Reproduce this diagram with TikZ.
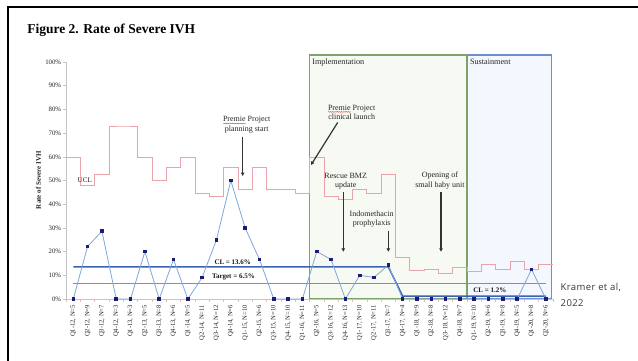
\documentclass[tikz,border=0pt]{standalone}
\usepackage{fontspec}
\setmainfont{Liberation Serif}
\newfontfamily\refsans[LetterSpace=4]{Open Sans}
\usetikzlibrary{arrows.meta,decorations.pathmorphing}

\definecolor{uclpink}{HTML}{E9A3AB}
\definecolor{datablue}{HTML}{7FA8DA}
\definecolor{marknavy}{HTML}{1C1C78}
\definecolor{clblue}{HTML}{3C62B4}
\definecolor{tgtgreen}{HTML}{46BE4E}
\definecolor{impgreen}{HTML}{7DA26A}
\definecolor{impfill}{HTML}{F6FAF3}
\definecolor{susblue}{HTML}{6A90D2}
\definecolor{susfill}{HTML}{F4F7FD}
\definecolor{axisgrey}{HTML}{C4C4C4}
\definecolor{spellred}{HTML}{D04848}

% red wavy underline, as a spell checker marks a word
\newlength\spellwd
\newcommand\spellwave[1]{\settowidth\spellwd{#1}%
  \rlap{\smash{\raisebox{-1.9pt}{\tikz[baseline=0pt]\draw[spellred,line width=0.35pt,decorate,
    decoration={snake,amplitude=0.45pt,segment length=1.8pt}] (0pt,0pt) -- (\spellwd,0pt);}}}#1}

\begin{document}
\begin{tikzpicture}[x=1pt,y=-1pt,
  every node/.style={inner sep=0pt, outer sep=0pt},
  ticklab/.style={font=\fontsize{6.8}{8}\selectfont, text=black!85, anchor=east},
  quarterlab/.style={font=\fontsize{6.6}{8}\selectfont, text=black!85, rotate=90, anchor=east},
  note/.style={font=\fontsize{8}{9.4}\selectfont, align=center, text=black!85, anchor=north},
  phaselab/.style={font=\fontsize{8.2}{10}\selectfont, text=black!85, anchor=base west},
  linelab/.style={font=\bfseries\fontsize{7}{8}\selectfont, text=black!90, anchor=base west},
  pointer/.style={draw=black!80, line width=1.2pt, -{Triangle[length=3.4pt,width=3.4pt]}},
  axisline/.style={draw=axisgrey, line width=0.6pt},
  baseline0/.style={draw=uclpink!80, line width=0.7pt},
  ucl/.style={draw=uclpink, line width=0.8pt},
  clline/.style={draw=clblue, line width=1.5pt},
  tgtline/.style={draw=tgtgreen, line width=1.2pt},
  dataline/.style={draw=datablue, line width=0.8pt, line join=round},
  marker/.style={rectangle, fill=marknavy, minimum size=3.6pt}
]
\useasboundingbox (0,0) rectangle (638,360);
\fill[white] (0,0) rectangle (638,360);

% frame of the figure
\draw[line width=2.6pt] (8,364) -- (8,7) -- (642,7);

\node[anchor=base west, font=\bfseries\fontsize{13.5}{16}\selectfont] (title) at (27.3,33.3) {Figure 2. Rate of Severe IVH};

% chart: x = quarter index, y = percent
\begin{scope}[shift={(58.98,299)}, x=14.32pt, y=2.37pt]
  % project phases
  \draw[draw=susblue, fill=susfill, line width=1.3pt] (28.5,0) rectangle (34.41,102.95);
  \draw[draw=impgreen, fill=impfill, line width=1.3pt] (17.5,0) rectangle (28.5,102.95);

  % axes
  \draw[axisline] (0.5,0) -- (0.5,100);
  \foreach \p in {0,10,...,100} {
    \draw[axisline] (0.5,\p) -- ++(-3pt,0);
    \node[ticklab] (yt\p) at ([xshift=-5pt]0.5,\p) {\p\%};
  }
  \draw[baseline0] (0.5,0) -- (34.5,0);
  \foreach \i in {0.5,1.5,...,34.5} \draw[baseline0] (\i,0) -- ++(0,-3pt);

  % upper control limit
  \draw[ucl] (0.5,59.6) foreach \u [count=\i] in
    {59.6,47.9,52.5,73.0,73.0,59.6,50.0,55.6,59.6,44.6,43.3,55.6,46.1,55.6,46.1,46.1,44.6,
     59.6,43.3,42.1,46.1,44.6,52.5,17.5,12.1,12.7,10.6,13.5,11.5,14.5,12.7,15.8,12.7,14.5}
    { -- (\i-0.5,\u) -- (\i+0.5,\u) };

  % target and centre lines
  \draw[tgtline] (1,6.5) -- (34,6.5);
  \draw[clline] (1,13.6) -- (23,13.6) -- (24,1.2) -- (34,1.2);

  % observed rates
  \foreach \v [count=\i] in
    {0,22.2,28.6,0,0,20,0,16.7,0,9.1,25,50,30,16.7,0,0,0,
     20,16.7,0,10,9.1,14.3,0,0,0,0,0,0,0,0,0,12.5,0}
    \coordinate (d\i) at (\i,\v);
  \draw[dataline] (d1) foreach \i in {2,...,34} { -- (d\i) };
  \foreach \i in {1,...,34} \node[marker] (m\i) at (d\i) {};

  % quarter labels
  \foreach \n [count=\i] in
    {5,9,7,3,3,5,8,6,5,11,12,6,10,6,10,10,11,5,12,13,10,11,7,4,9,8,12,7,10,6,8,5,8,6} {
    \pgfmathtruncatemacro\q{mod(\i-1,4)+1}
    \pgfmathtruncatemacro\yy{12+floor((\i-1)/4)}
    \node[quarterlab] (q\i) at ([yshift=-6pt]\i,0) {Q\q-\yy, N=\n};
  }
\end{scope}

\node[rotate=90, font=\bfseries\fontsize{7}{8}\selectfont, text=black!85] (ytitle) at (38.5,180) {Rate of Severe IVH};

% phase titles
\node[phaselab] (impl) at (312.3,64.5) {Implementation};
\node[phaselab] (sust) at (470,64.5) {Sustainment};

% line labels
\node[font=\fontsize{7.2}{8}\selectfont, text=black!85, anchor=base west] (ucllab) at (77.7,182.7) {UCL};
\node[linelab] (cllab) at (214.5,264) {CL = 13.6\%};
\node[linelab] (tgtlab) at (212,278.3) {Target = 6.5\%};
\node[linelab] (cl2lab) at (473.3,292) {CL = 1.2\%};

% milestones
\node[note] (plan) at (246.7,116.3) {\spellwave{Premie} Project\\planning start};
\node[note] (launch) at (351.7,104.7) {\spellwave{Premie} Project\\clinical launch};
\node[note] (bmz) at (345.7,173) {Rescue BMZ\\update};
\node[note] (indo) at (371.7,211) {Indomethacin\\prophylaxis};
\node[note] (sbu) at (440,172) {Opening of\\small baby unit};

\coordinate (planTip) at (242.7,176);
\coordinate (launchTip) at (311,165);
\coordinate (bmzTip) at (343.3,251.7);
\coordinate (indoTip) at (388.3,251.7);
\coordinate (sbuTip) at (441,251.7);

\draw[pointer] ([yshift=-4pt]plan.south -| planTip) -- (planTip);
\draw[pointer] ([xshift=-14pt,yshift=-3pt]launch.south) -- (launchTip);
\draw[pointer] ([yshift=-3pt]bmz.south -| bmzTip) -- (bmzTip);
\draw[pointer] ([yshift=-3pt]indo.south -| indoTip) -- (indoTip);
\draw[pointer] ([yshift=-3pt]sbu.south -| sbuTip) -- (sbuTip);

% source
\node[anchor=north west, align=left, font=\refsans\fontsize{9.5}{15.7}\selectfont, text=black!78] (src) at (560.7,283.3) {Kramer et al,\\2022};
\end{tikzpicture}
\end{document}
